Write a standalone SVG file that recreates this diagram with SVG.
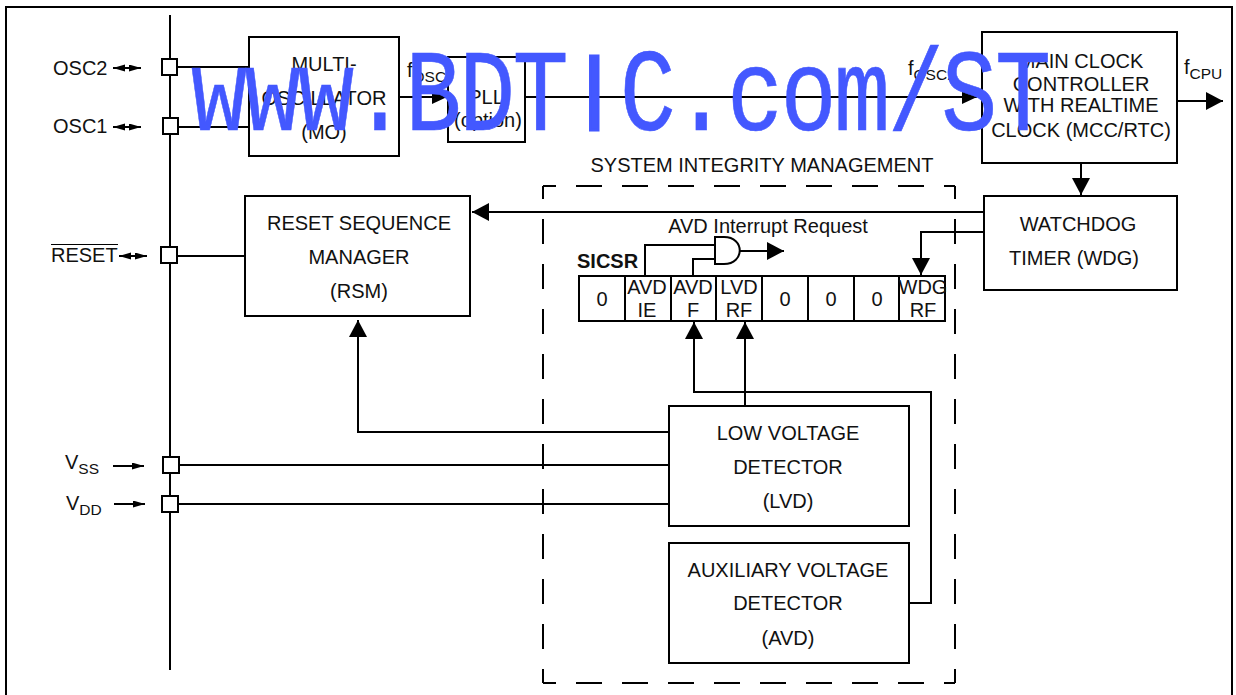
<svg xmlns="http://www.w3.org/2000/svg" width="1236" height="695" viewBox="0 0 1236 695">
<style>
text{font-family:"Liberation Sans",Arial,sans-serif;font-size:20px;fill:#111;text-anchor:middle}
.s{text-anchor:start}
.b{fill:#fff;stroke:#000;stroke-width:2}
.n{fill:none;stroke:#000;stroke-width:2}
.sub{font-size:15.500px}
.wm{font-family:"Liberation Mono","Liberation Sans",monospace;font-size:117px;fill:#4358ff;stroke:#4358ff;stroke-width:.6;text-anchor:middle}
.wi{font-family:"Liberation Sans",Arial,sans-serif;font-size:108px;stroke-width:3}
.dv{fill:none;stroke:#000;stroke-width:2;stroke-dasharray:25 20;stroke-dashoffset:12}
.dh{fill:none;stroke:#000;stroke-width:2;stroke-dasharray:26 20;stroke-dashoffset:13}
</style>
<defs>
<marker id="ah" markerUnits="userSpaceOnUse" markerWidth="20" markerHeight="20" refX="17" refY="9" orient="auto"><path d="M0 0L17 9L0 18Z" fill="#000"/></marker>
<marker id="am" markerUnits="userSpaceOnUse" markerWidth="17" markerHeight="16" refX="15" refY="7" orient="auto"><path d="M0 0L15 7L0 14Z" fill="#000"/></marker>
<marker id="sa" markerUnits="userSpaceOnUse" markerWidth="14" markerHeight="10" refX="12" refY="3.500" orient="auto-start-reverse"><path d="M0 0L12 3.500L0 7Z" fill="#000"/></marker>
</defs>
<rect x="6" y="7" width="1226" height="700" class="n"/>
<path class="dv" d="M543 186V683"/>
<path class="dv" d="M955 186V683"/>
<path class="dh" d="M543 186H955"/>
<path class="dh" d="M543 683H955"/>
<g id="connectors">
<path class="n" d="M170 15V670"/>
<path class="n" d="M177 67H249M177 127H249"/>
<path class="n" d="M399 97H447" marker-end="url(#am)"/>
<path class="n" d="M526 97H977" marker-end="url(#am)"/>
<path class="n" d="M1177 101H1223" marker-end="url(#ah)"/>
<path class="n" d="M1081 163V195" marker-end="url(#ah)"/>
<path class="n" d="M984 212H472" marker-end="url(#ah)"/>
<path class="n" d="M984 232H921V275" marker-end="url(#ah)"/>
<path class="n" d="M176 256H245"/>
<path class="n" d="M669 432H358V320" marker-end="url(#ah)"/>
<path class="n" d="M177 465H669M177 504H669"/>
<path class="n" d="M909 603H931V392H694V322" marker-end="url(#ah)"/>
<path class="n" d="M745 407V322" marker-end="url(#ah)"/>
<path class="n" d="M645 275V245H715M693 275V259H715"/>
<path class="n" d="M738 251H784" marker-end="url(#ah)"/>
<path class="n" d="M113 68H141" marker-start="url(#sa)" marker-end="url(#sa)"/>
<path class="n" d="M113 127H141" marker-start="url(#sa)" marker-end="url(#sa)"/>
<path class="n" d="M119 256H147" marker-start="url(#sa)" marker-end="url(#sa)"/>
<path class="n" d="M113 466H144" marker-end="url(#sa)"/>
<path class="n" d="M114 504H145" marker-end="url(#sa)"/>
</g>
<g id="pin-osc2"><rect class="b" x="162" y="59" width="15" height="16"/><text class="s" x="53" y="75">OSC2</text></g>
<g id="pin-osc1"><rect class="b" x="163" y="118" width="15" height="16"/><text class="s" x="53" y="133">OSC1</text></g>
<g id="pin-reset"><rect class="b" x="161" y="247" width="16" height="16"/><text class="s" x="51" y="262">RESET</text><path d="M51 244.500H118" stroke="#000" fill="none"/></g>
<g id="pin-vss"><rect class="b" x="163" y="457" width="16" height="16"/><text class="s" x="65" y="469">V<tspan class="sub" dy="5">SS</tspan></text></g>
<g id="pin-vdd"><rect class="b" x="162" y="496" width="16" height="16"/><text class="s" x="66" y="510">V<tspan class="sub" dy="5">DD</tspan></text></g>
<g id="mo"><rect class="b" x="249" y="37" width="150" height="119"/><text x="324" y="71">MULTI-</text><text x="324" y="105">OSCILLATOR</text><text x="324" y="139">(MO)</text></g>
<g id="pll"><rect class="b" x="448" y="57" width="77" height="85"/><text x="486" y="104">PLL</text><text x="488" y="127">(option)</text></g>
<g id="mcc"><rect class="b" x="982" y="32" width="195" height="131"/><text x="1081" y="68">MAIN CLOCK</text><text x="1081" y="91">CONTROLLER</text><text x="1081" y="112">WITH REALTIME</text><text x="1081" y="137">CLOCK (MCC/RTC)</text></g>
<g id="wdg"><rect class="b" x="984" y="196" width="193" height="94"/><text x="1078" y="231">WATCHDOG</text><text x="1074" y="265">TIMER (WDG)</text></g>
<g id="rsm"><rect class="b" x="245" y="196" width="225" height="120"/><text x="359" y="230">RESET SEQUENCE</text><text x="359" y="264">MANAGER</text><text x="359" y="298">(RSM)</text></g>
<g id="lvd"><rect class="b" x="669" y="406" width="240" height="120"/><text x="788" y="440">LOW VOLTAGE</text><text x="788" y="474">DETECTOR</text><text x="788" y="508">(LVD)</text></g>
<g id="avd"><rect class="b" x="669" y="543" width="240" height="120"/><text x="788" y="577">AUXILIARY VOLTAGE</text><text x="788" y="610">DETECTOR</text><text x="788" y="645">(AVD)</text></g>
<g id="and-gate"><path class="b" d="M715 237H724C745 237 745 264 724 264H715Z"/></g>
<g id="sicsr">
<rect class="b" x="579" y="276" width="366" height="45"/>
<path class="n" d="M625 276V321M671 276V321M716 276V321M762 276V321M808 276V321M854 276V321M899 276V321"/>
<text x="602" y="306">0</text>
<text x="647" y="294">AVD</text><text x="647" y="317">IE</text>
<text x="693" y="294">AVD</text><text x="693" y="317">F</text>
<text x="739" y="294">LVD</text><text x="739" y="317">RF</text>
<text x="785" y="306">0</text><text x="831" y="306">0</text><text x="877" y="306">0</text>
<text x="923" y="294">WDG</text><text x="923" y="317">RF</text>
</g>
<text class="s" x="577" y="268" style="font-weight:700">SICSR</text>
<text x="768" y="233">AVD Interrupt Request</text>
<text x="762" y="172">SYSTEM INTEGRITY MANAGEMENT</text>
<text class="s" x="407" y="77">f<tspan class="sub" dy="5">OSC</tspan></text>
<text class="s" x="908" y="75">f<tspan class="sub" dy="5">OSC2</tspan></text>
<text class="s" x="1184" y="74">f<tspan class="sub" dy="5">CPU</tspan></text>
<text class="wm" transform="scale(.8 1)" y="130" x="273.750 340.750 407.750 474.750 541.750 608.750 675.750">www.BDT<tspan class="wi" x="742.750">I</tspan><tspan x="809.750 876.750 943.750 1010.750 1077.750 1144.750 1211.750 1278.750">C.com/ST</tspan></text>
</svg>
